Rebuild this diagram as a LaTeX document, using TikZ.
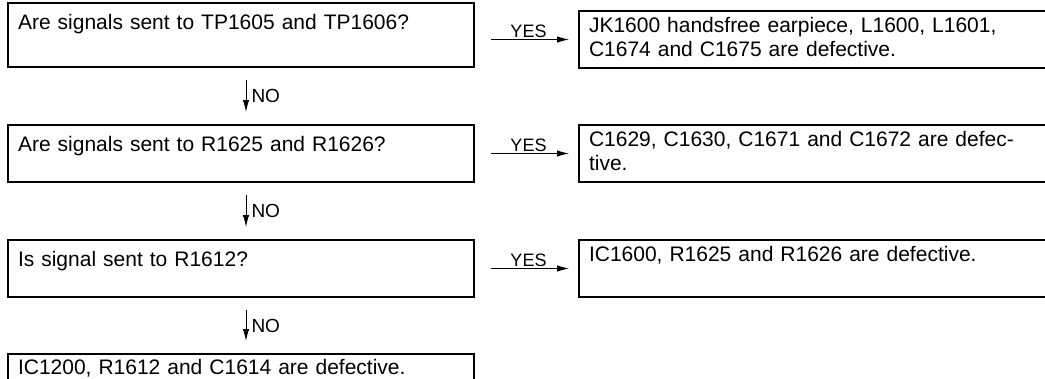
\documentclass[tikz,border=0pt]{standalone}
\usepackage{fontspec}
\setmainfont{Liberation Sans}
\usetikzlibrary{arrows.meta}

\tikzset{
  qbox/.style={draw, line width=2pt, anchor=north west, align=left,
    text width=446pt, inner xsep=10pt, inner ysep=3pt,
    font=\fontsize{21}{24}\selectfont, text height=23pt},
  abox/.style={qbox, text width=500pt},
  flow/.style={line width=1pt, -{Latex[length=12pt,width=6.5pt]}},
  lbl/.style={font=\fontsize{18}{20}\selectfont, inner sep=2pt}
}

\begin{document}
\begin{tikzpicture}[x=1pt,y=-1pt]
  \useasboundingbox (0,0) rectangle (1045,378);
  \clip (0,0) rectangle (1045,378);

  % questions
  \node[qbox, text depth=35pt] (q1) at (7,2) {Are signals sent to TP1605 and TP1606?};
  \node[qbox, text depth=28pt] (q2) at (7,124) {Are signals sent to R1625 and R1626?};
  \node[qbox, text depth=28pt] (q3) at (7,239) {Is signal sent to R1612?};
  \node[qbox, text height=17pt, text depth=28pt] (q4) at (7,353) {IC1200, R1612 and C1614 are defective.};

  % answers
  \node[abox, text height=18pt, text depth=33pt] (a1) at (578,10) {JK1600 handsfree earpiece, L1600, L1601,\\C1674 and C1675 are defective.};
  \node[abox, text height=18pt, text depth=33pt] (a2) at (578,124) {C1629, C1630, C1671 and C1672 are defec-\\tive.};
  \node[abox, text height=18pt, text depth=33pt] (a3) at (578,239) {IC1600, R1625 and R1626 are defective.};

  % yes
  \draw[flow, shorten <=16pt, shorten >=9pt] (q1.east |- a1.west) -- (a1.west) node[lbl, midway, above, xshift=2pt, yshift=-1pt] {YES};
  \draw[flow, shorten <=16pt, shorten >=9pt] (q2.east |- a2.west) -- (a2.west) node[lbl, midway, above, xshift=2pt, yshift=-1pt] {YES};
  \draw[flow, shorten <=16pt, shorten >=9pt] (q3.east |- a3.west) -- (a3.west) node[lbl, midway, above, xshift=2pt, yshift=-1pt] {YES};

  % no
  \draw[flow, shorten <=12pt, shorten >=12pt] ([xshift=5pt]q1.south) -- ([xshift=5pt]q2.north) node[lbl, midway, right, xshift=3pt, font=\fontsize{19}{20}\selectfont] {NO};
  \draw[flow, shorten <=12pt, shorten >=12pt] ([xshift=5pt]q2.south) -- ([xshift=5pt]q3.north) node[lbl, midway, right, xshift=3pt, font=\fontsize{19}{20}\selectfont] {NO};
  \draw[flow, shorten <=12pt, shorten >=12pt] ([xshift=5pt]q3.south) -- ([xshift=5pt]q4.north) node[lbl, midway, right, xshift=3pt, font=\fontsize{19}{20}\selectfont] {NO};
\end{tikzpicture}
\end{document}
